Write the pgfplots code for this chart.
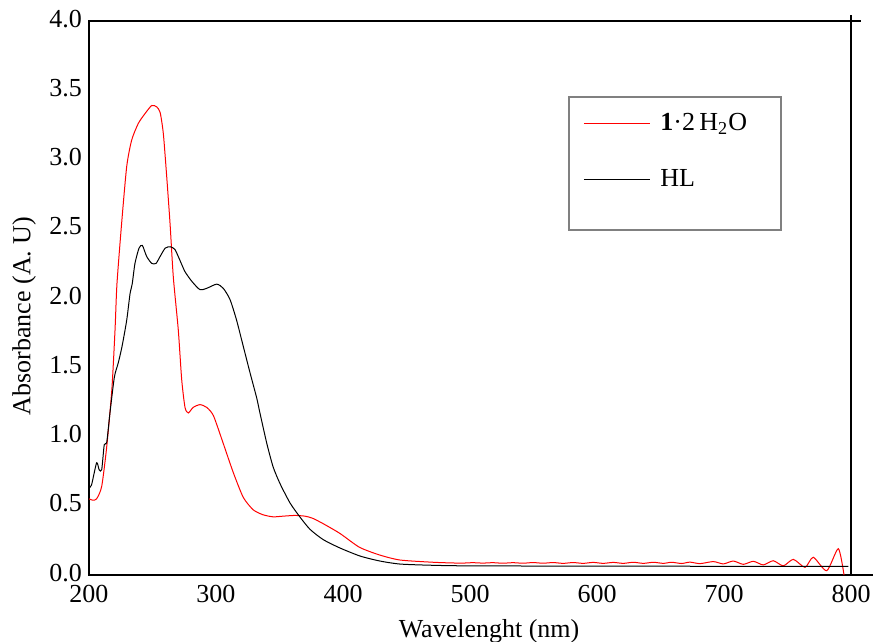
\documentclass[border=0pt]{standalone}
\usepackage{fontspec}
\setmainfont{Liberation Serif}
\usepackage{pgfplots}
\pgfplotsset{compat=1.18}
\begin{document}
\begin{tikzpicture}[font=\fontsize{13}{15.6}\selectfont]
\begin{axis}[
  scale only axis,
  width=381pt, height=277pt,
  xmin=200, xmax=800, ymin=0, ymax=4,
  xtick={200,300,...,800},
  ytick={0,0.5,...,4},
  major tick length=0pt,
  axis line style={line width=0.9pt},
  clip=false,
  /pgf/number format/assume math mode=true,
  yticklabel style={yshift=1.2pt, /pgf/number format/.cd, fixed, fixed zerofill, precision=1},
  xticklabel style={yshift=-1.5pt, /pgf/number format/.cd, fixed, precision=0},
  xlabel={Wavelenght (nm)},
  ylabel={Absorbance (A. U)},
  xlabel style={at={(axis description cs:0.525,-0.112)}, anchor=base},
  ylabel style={at={(axis description cs:-0.085,0.4675)}, anchor=center, rotate=0},
  legend cell align=left,
  legend style={at={(axis cs:578,3.451)}, anchor=north west, draw=none, fill=none,
    inner xsep=7pt, inner ysep=8pt, row sep=18pt,
    nodes={inner xsep=5pt, inner ysep=0pt}},
  legend image code/.code={\draw[#1] (0pt,0pt) -- (33pt,0pt);},
]
\addplot[red, line width=0.5pt, smooth, tension=0.4] coordinates {
(200,0.55) (203,0.54) (206,0.55) (210,0.64) (214,0.93) (218,1.34) (220.5,1.77)
(222,2.10) (225.7,2.54) (229.7,2.95) (233.6,3.14) (238.8,3.26) (244,3.33)
(249.4,3.39) (253.3,3.38) (256,3.34) (258.5,3.19) (261,2.90) (263.8,2.54)
(266.4,2.15) (270.3,1.77) (273,1.41) (275.6,1.21) (278.2,1.17) (282,1.21)
(287.4,1.23) (292.7,1.21) (298,1.15) (305.7,0.95) (313.6,0.74) (321.5,0.56)
(329.4,0.47) (337,0.435) (345,0.42) (353,0.425) (362,0.43) (370,0.425) (376,0.41) (384.5,0.37)
(397.6,0.30) (413,0.20) (429,0.144) (445,0.108) (471,0.092) (486,0.087)
(494.3,0.086) (502.2,0.089) (510.1,0.086) (518,0.089) (525.9,0.085) (533.8,0.089)
(541.7,0.085) (549.6,0.090) (557.5,0.085) (565.4,0.090) (573.3,0.084) (581.2,0.090)
(589.1,0.084) (597,0.091) (604.9,0.084) (612.8,0.091) (620.7,0.084) (628.6,0.092)
(636.5,0.084) (644.4,0.092) (652.2,0.084) (658.8,0.092) (666.6,0.083) (673.2,0.093)
(681.1,0.082) (691.6,0.097) (699.5,0.080) (707.3,0.101) (715.2,0.077) (723.1,0.099)
(730.9,0.073) (738.8,0.103) (746.7,0.066) (754.6,0.113) (763.8,0.055) (770.3,0.128)
(780.9,0.031) (790,0.190) (794.5,0.0)
};
\addlegendentry{\textbf{1}\textperiodcentered 2\,H\textsubscript{2}O}
\addplot[black, line width=0.5pt, smooth, tension=0.4] coordinates {
(200,0.63) (202,0.65) (206,0.81) (208,0.76) (210,0.76) (212,0.94) (214,0.96)
(216.5,1.17) (220,1.43) (223,1.53) (226,1.65) (229.7,1.84) (232.3,2.03) (234,2.10)
(236.2,2.25) (239.4,2.36) (242,2.38) (245.4,2.30) (249.4,2.25) (252.8,2.25)
(256,2.30) (260,2.36) (264,2.37) (267.7,2.35) (271.7,2.27) (275.6,2.19) (281,2.12)
(287.4,2.06) (292.7,2.07) (300.6,2.10) (305.7,2.07) (311,1.99) (316.2,1.84)
(321.5,1.65) (326.8,1.46) (332,1.28) (334.6,1.17) (340,0.95) (345,0.78)
(350.4,0.66) (358.3,0.52) (366,0.42) (374,0.33) (384.5,0.255) (397.6,0.195)
(413.4,0.137) (429,0.101) (445,0.079) (471,0.070) (500,0.066) (600,0.064)
(700,0.063) (798,0.063)
};
\addlegendentry{HL}
\draw[gray, line width=0.6pt] (axis cs:578,3.451) rectangle (axis cs:744.9,2.491);
\draw[line width=0.9pt] (rel axis cs:1,1) -- ++(5pt,0pt);
\draw[line width=0.9pt] (rel axis cs:1,1) -- ++(0pt,3pt);
\draw[line width=0.9pt] (rel axis cs:1,0) -- ++(11pt,0pt);
\end{axis}
\pgfresetboundingbox
\path[use as bounding box] ([shift={(-44.5pt,-33pt)}]current axis.south west) rectangle ([shift={(12.5pt,10.5pt)}]current axis.north east);
\end{tikzpicture}
\end{document}
